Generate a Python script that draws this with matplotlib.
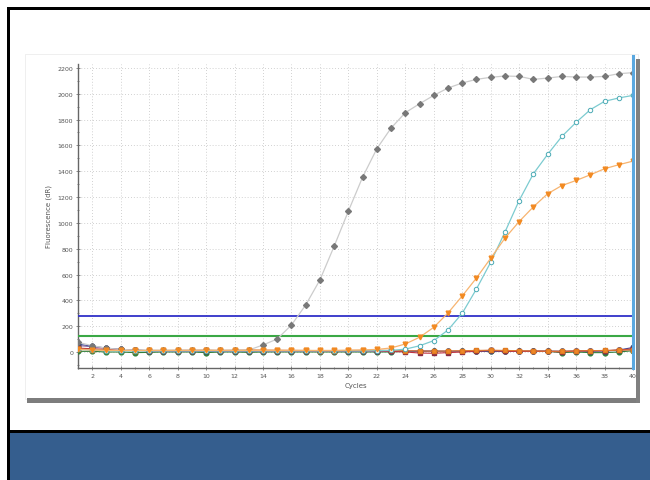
import matplotlib
matplotlib.use("Agg")
from matplotlib import pyplot as plt   # noqa: E402
from matplotlib.patches import Rectangle  # noqa: E402
from matplotlib.ticker import MultipleLocator  # noqa: E402

W, H = 650, 481

# ── data ──────────────────────────────────────────────────────────────────────
cycles = list(range(1, 41))

gray_vals = [75, 49, 29, 20, 15, 14, 13, 14, 14, 14, 13, 14, 15, 54, 101, 209, 364, 558, 819, 1091,
             1354, 1574, 1734, 1853, 1922, 1987, 2044, 2083, 2111, 2127, 2137, 2134, 2111, 2121, 2134,
             2129, 2129, 2134, 2155, 2163]
cyan_vals = [20, 14, 10, 8, 8, 8, 8, 8, 8, 8, 8, 8, 8, 8, 8, 8, 8, 8, 8, 8,
             8, 10, 12, 22, 48, 88, 170, 300, 488, 695, 928, 1173, 1380, 1530, 1669,
             1778, 1876, 1941, 1967, 1987]
orange_vals = [20, 15, 12, 12, 12, 12, 12, 12, 12, 12, 12, 12, 12, 12, 12, 12, 12, 12, 12, 14,
               16, 20, 31, 62, 114, 191, 302, 434, 573, 726, 881, 1010, 1124, 1225, 1289,
               1328, 1372, 1419, 1450, 1478]
sq_orange_vals = [25, 18, 15, 12, 10, 12, 12, 13, 14, 15, 12, 14, 16, 15, 14, 13, 12, 10, 11, 12,
                  13, 14, 12, 10, 8, 6, 8, 10, 12, 14, 12, 10, 8, 6, 6, 8, 10, 12, 14, 16]
maroon_vals = [30, 25, 20, 15, 12, 10, 10, 10, 10, 12, 10, 10, 10, 10, 8, 8, 8, 5, 5, 8,
               10, 8, 5, 0, -8, -10, -5, 0, 5, 12, 5, 5, 5, 5, 0, 8, 10, 10, 15, 25]
purple_vals = [50, 40, 28, 20, 15, 10, 8, 8, 8, 10, 8, 8, 8, 8, 8, 8, 6, 6, 8, 10,
               5, 5, 5, 8, 10, 8, 6, 8, 10, 12, 8, 8, 8, 8, 5, 8, 10, 10, 12, 20]
green_vals = [5, 5, 0, 0, -5, -3, 0, 0, 0, -5, 0, 0, -3, 0, 0, 0, 0, 0, 0, 0,
              0, 0, 0, 5, 5, 5, 3, 5, 5, 5, 5, 5, 5, 5, -5, 0, -5, -5, 0, 10]
navy_vals = [60, 45, 30, 20, 15, 10, 8, 5, 5, 5, 5, 5, 5, 5, 5, 5, 5, 5, 5, 5,
             5, 5, 5, 5, 5, 5, 5, 5, 5, 5, 5, 5, 5, 5, 5, 5, 5, 8, 15, 35]

threshold_blue = 281
threshold_green = 126

x_ticks = list(range(2, 41, 2))
y_ticks = list(range(0, 2201, 200))


def px(x0, y0, w, h):
    """pixel box (top-left origin) -> figure fraction rect"""
    return (x0 / W, 1 - (y0 + h) / H, w / W, h / H)


fig = plt.figure(figsize=(W / 100, H / 100), dpi=100)
fig.patch.set_facecolor("white")


# ── slide frame and blue band ────────────────────────────────────────────────
def add_rect(x0, y0, w, h, **kw):
    r = Rectangle(px(x0, y0, w, h)[:2], w / W, h / H, transform=fig.transFigure, **kw)
    fig.add_artist(r)
    return r


add_rect(10, 434, 640, 47, facecolor="#355e8e", edgecolor="none", zorder=0)
add_rect(7, 8, 3, 473, facecolor="black", edgecolor="none", zorder=1)
add_rect(7, 8, 643, 3, facecolor="black", edgecolor="none", zorder=1)
add_rect(7, 431, 643, 3, facecolor="black", edgecolor="none", zorder=1)

# chart panel with shadow
add_rect(25, 55, 613, 345, facecolor="white", edgecolor="#ececec", lw=0.6, zorder=1)
add_rect(27, 399, 613, 5, facecolor="#7d7d7d", edgecolor="none", zorder=1)
add_rect(636, 60, 4, 344, facecolor="#808080", edgecolor="none", zorder=1)

# ── amplification plot ───────────────────────────────────────────────────────
ax = fig.add_axes(px(78, 65, 555, 304))
ax.set_zorder(3)
ax.set_facecolor("none")
ax.set_xlim(1, 40)
ax.set_ylim(-124, 2230)

ax.xaxis.set_minor_locator(MultipleLocator(1))
ax.yaxis.set_minor_locator(MultipleLocator(100))
ax.set_xticks(x_ticks)
ax.set_yticks(y_ticks)
ax.grid(True, which="major", color="#c2c2c2", ls=(0, (1, 2.5)), lw=0.6)
ax.tick_params(which="both", direction="inout", colors="#777777", labelcolor="#555555",
               labelsize=4.5, length=3, width=0.6, pad=2)
ax.tick_params(which="minor", length=2)
for s in ("top", "right"):
    ax.spines[s].set_visible(False)
for s in ("left", "bottom"):
    ax.spines[s].set_color("#666666")
    ax.spines[s].set_linewidth(1.0)

ax.set_xlabel("Cycles", fontsize=5, color="#555555", labelpad=3)
ax.set_ylabel("Fluorescence (dR)", fontsize=5, color="#555555", labelpad=4)

ax.axhline(threshold_green, color="#3aa845", lw=1.5, zorder=3)
ax.axhline(threshold_blue, color="#3030c8", lw=1.3, zorder=3)

base_kw = dict(lw=0.8, ms=3.4, zorder=4)
ax.plot(cycles, green_vals, color="#2f7f3a", marker="o", mfc="#2f7f3a", mec="#2f7f3a", **base_kw)
ax.plot(cycles, navy_vals, color="#3a4a9a", marker="o", mfc="#3a4a7a", mec="#3a4a7a", **base_kw)
ax.plot(cycles, purple_vals, color="#8a6aa0", marker="o", mfc="#4e4460", mec="#4e4460", **base_kw)
ax.plot(cycles, maroon_vals, color="#c03040", marker="s", mfc="#8a2a40", mec="#8a2a40", **base_kw)
ax.plot(cycles, sq_orange_vals, color="#e07a30", marker="s", mfc="#f08a28", mec="#e07a20",
        lw=0.8, ms=3.2, zorder=5)

ax.plot(cycles, gray_vals, color="#cccccc", marker="D", mfc="#787878", mec="#787878",
        lw=0.9, ms=3.0, zorder=6)
ax.plot(cycles, cyan_vals, color="#7ccbd0", marker="o", mfc="white", mec="#4aaab4",
        lw=0.9, ms=3.2, mew=0.7, zorder=6)
ax.plot(cycles, orange_vals, color="#f7b470", marker="v", mfc="#f28a22", mec="#f28a22",
        lw=0.9, ms=3.4, zorder=6)

ax.axvline(40, ymin=0, ymax=1.025, color="#5aa8e0", lw=2.2, zorder=7, clip_on=False)

fig.savefig("out.png", dpi=100)
